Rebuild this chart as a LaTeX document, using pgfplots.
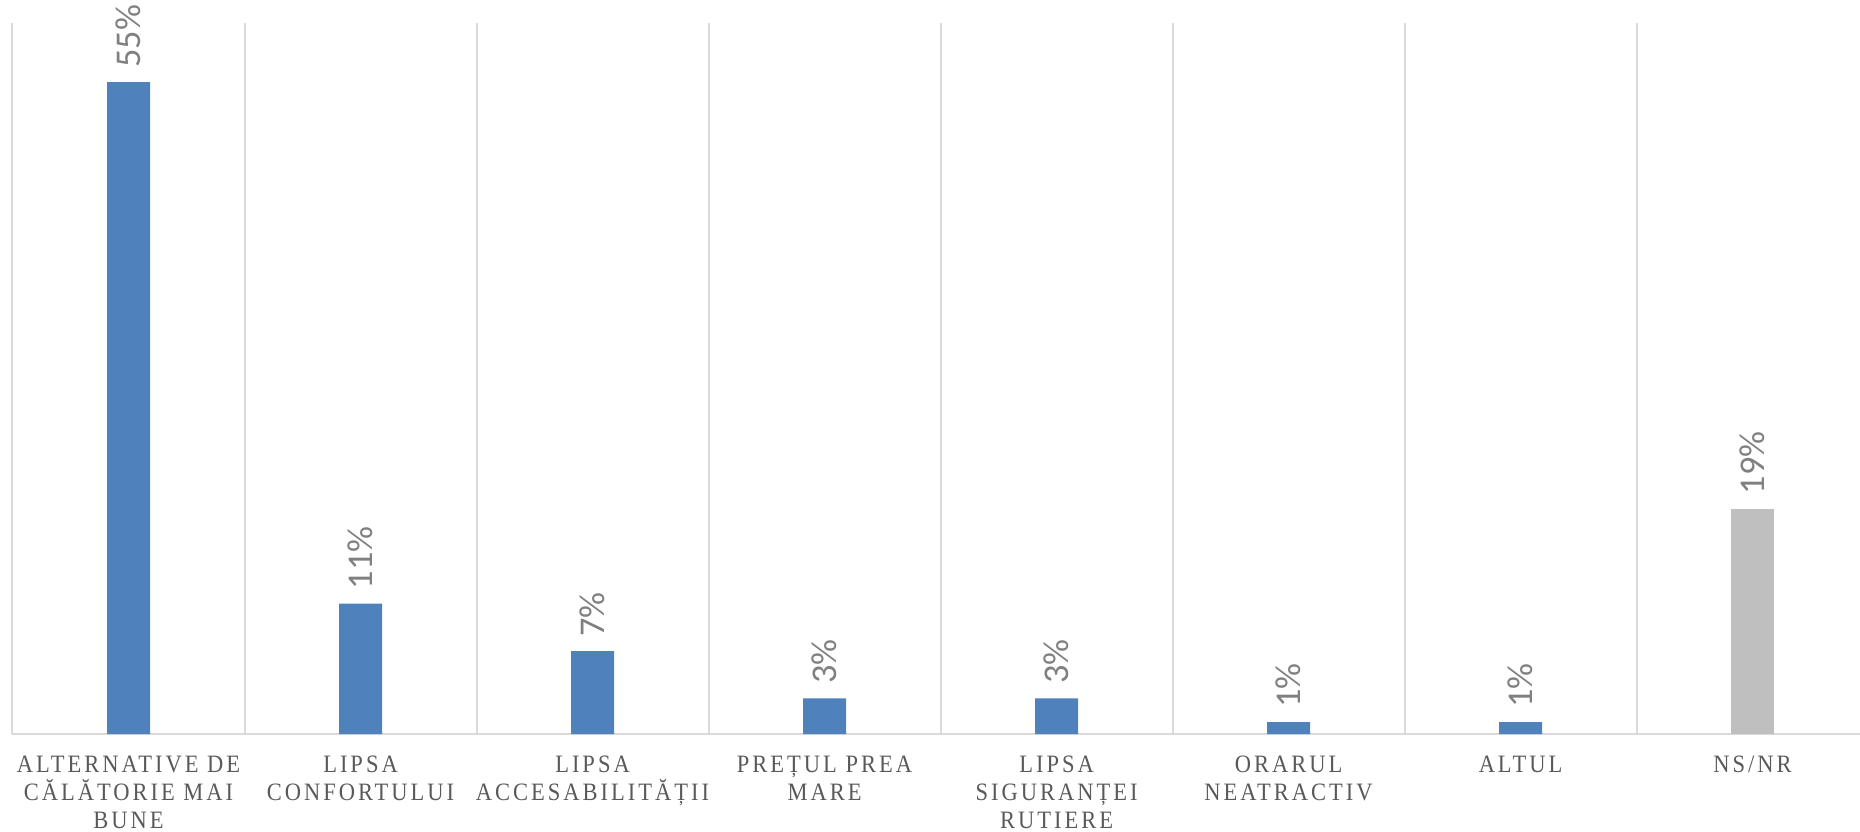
\documentclass[border=0pt]{standalone}
\usepackage{fontspec}
\usepackage{pgfplots}
\pgfplotsset{compat=1.18}
\setmainfont{Liberation Serif}
\newfontfamily\tickfont{Liberation Serif}[FakeStretch=0.9,LetterSpace=12]
\newfontfamily\labfont{Carlito}
\definecolor{barblue}{HTML}{4F81BD}
\definecolor{bargray}{HTML}{BFBFBF}
\definecolor{gridc}{HTML}{D9D9D9}
\definecolor{tickc}{HTML}{595959}
\definecolor{labc}{HTML}{808080}
\begin{document}
\begin{tikzpicture}
\begin{axis}[
  name=ax,
  scale only axis,
  width=739pt, height=284.4pt,
  xmin=-0.5, xmax=7.463,
  ymin=0, ymax=60,
  enlargelimits=false,
  clip=false,
  axis y line=none,
  axis x line*=bottom,
  axis line style={draw=gridc, line width=0.8pt},
  xtick={0,1,2,3,4,5,6,7},
  xticklabels={{ALTERNATIVE DE\\CĂLĂTORIE MAI\\BUNE},{LIPSA\\CONFORTULUI},{LIPSA\\ACCESABILITĂȚII},{PREȚUL PREA\\MARE},{LIPSA\\SIGURANȚEI\\RUTIERE},{ORARUL\\NEATRACTIV},{ALTUL},{NS/NR}},
  major tick length=0pt,
  xticklabel style={align=center, inner sep=0pt, anchor=north, yshift=-8.4pt,
    font={\fontsize{10}{11.2}\selectfont\tickfont}, text=tickc},
  extra x ticks={-0.5,0.5,1.5,2.5,3.5,4.5,5.5,6.5},
  extra x tick labels={},
  extra x tick style={grid=major, major grid style={draw=gridc, line width=0.8pt}, major tick length=0pt},
  ybar,
  bar width=17.2pt,
  nodes near coords={\pgfmathprintnumber[assume math mode=true]{\pgfplotspointmeta}\%},
  every node near coord/.append style={rotate=90, anchor=west, inner xsep=5.6pt, inner ysep=0pt,
    font={\fontsize{14.5}{17}\selectfont\labfont}, text=labc},
]
\addplot[fill=barblue, draw=none, bar shift=0pt] coordinates {(0,55) (1,11) (2,7) (3,3) (4,3) (5,1) (6,1)};
\addplot[fill=bargray, draw=none, bar shift=0pt] coordinates {(7,19)};
\end{axis}
\pgfresetboundingbox
\path[use as bounding box] ([xshift=-5pt,yshift=-38.8pt]ax.south west) rectangle ([yshift=9.2pt]ax.north east);
\end{tikzpicture}
\end{document}
